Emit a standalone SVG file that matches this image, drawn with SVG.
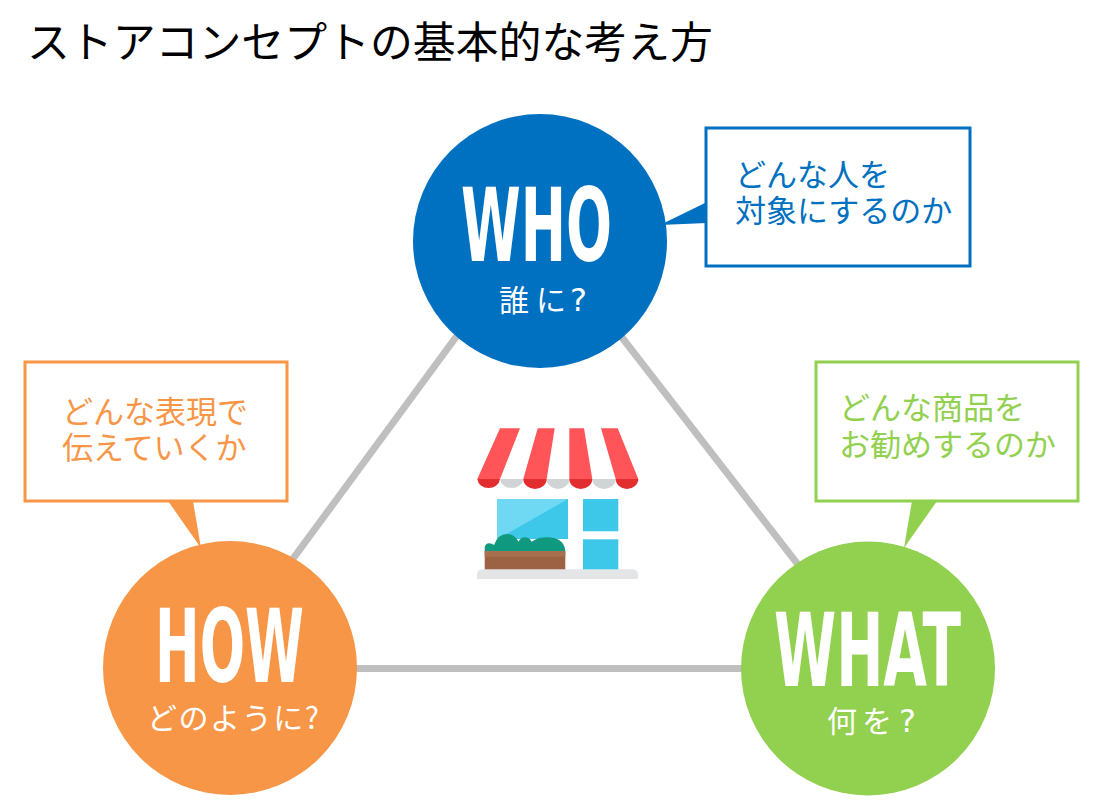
<svg xmlns="http://www.w3.org/2000/svg" width="1098" height="812" viewBox="0 0 1098 812">
<style>
text{font-family:"Noto Sans CJK JP","Noto Sans",sans-serif}
.t{font-size:31px}
.big{font-family:"DejaVu Sans",Roboto,sans-serif;font-weight:700;font-size:101.500px;fill:#fff}
.sub{font-size:30px;fill:#fff}
.q{font-family:"DejaVu Sans",sans-serif;font-size:32px}
.box{fill:#fff;stroke-width:3}
.blue{fill:#0070c0}.orange{fill:#f79646}.green{fill:#92d050}
.sblue{stroke:#0070c0}.sorange{stroke:#f79646}.sgreen{stroke:#92d050}
.link{stroke:#bfbfbf;stroke-width:7;fill:none}
</style>
<rect width="1098" height="812" fill="#fff"/>
<text id="title" x="27" y="58" font-size="43" fill="#000" textLength="686" lengthAdjust="spacingAndGlyphs">ストアコンセプトの基本的な考え方</text>
<g id="connectors">
<line class="link" x1="470" y1="318" x2="270" y2="590"/>
<line class="link" x1="610" y1="322" x2="820" y2="593"/>
<line class="link" x1="340" y1="668.500" x2="760" y2="668.500"/>
</g>
<g id="store">
<path d="M477 579v-4q0-5.700 6-5.700h149q6 0 6 5.700v4z" fill="#e3e5e6"/>
<path d="M500 479a11.700 10 0 0 0 23.300 0zM546.700 479a11.300 10 0 0 0 22.600 0zM592.300 479a11.700 10 0 0 0 23.400 0z" fill="#d0d4d5"/>
<path d="M477.300 479a11.400 10 0 0 0 22.700 0zM523.300 479a11.700 10 0 0 0 23.400 0zM569.300 479a11.500 10 0 0 0 23 0zM615.700 479a11.300 10 0 0 0 22.600 0z" fill="#e22e2e"/>
<path d="M500 428.300h20L500 479h-22.700zM537.700 428.300h17L546.700 479h-23.400zM569.300 428.300H584L592.300 479h-23zM601 428.300h16.700L638.300 479h-22.600z" fill="#ff5558"/>
<rect x="497" y="499" width="71" height="40" fill="#3dc7e8"/>
<path d="M497 499h71L497 539.500z" fill="#6fd9f3"/>
<rect x="583" y="499" width="35.300" height="32.300" fill="#3dc7e8"/>
<rect x="583" y="539.300" width="35.300" height="30" fill="#3dc7e8"/>
<path d="M484.700 551V546.700Q486 543.300 489.300 543.300Q492 543.300 494 545Q498 534 506.700 534Q515 534 518.300 541.700Q521 537.300 525 537.300Q529 537.300 531.700 541.700Q538 537.300 546.700 537.300Q564 537.300 565.300 551z" fill="#0f9a7f"/>
<rect x="484.700" y="551" width="80.600" height="18.300" fill="#9c6243"/>
<rect x="484.700" y="551" width="80.600" height="5.700" fill="#a9704f"/>
</g>
<g id="who">
<path class="blue" d="M707 202L660 225L707 223z"/>
<rect class="box sblue" x="706" y="128" width="264" height="138"/>
<circle class="blue" cx="540" cy="241" r="127"/>
<text class="big" x="461" y="261" textLength="151" lengthAdjust="spacingAndGlyphs">WHO</text>
<text class="sub" y="311"><tspan x="499">誰</tspan><tspan x="536">に</tspan><tspan class="q" x="570">?</tspan></text>
<text class="t" fill="#0070c0" x="735" y="186">どんな人を</text>
<text class="t" fill="#0070c0" x="735" y="222">対象にするのか</text>
</g>
<g id="how">
<path class="orange" d="M168 501L201 548L193 501z"/>
<rect class="box sorange" x="25" y="362" width="262" height="139"/>
<circle class="orange" cx="230" cy="668" r="127"/>
<text class="big" x="155" y="682" textLength="149" lengthAdjust="spacingAndGlyphs">HOW</text>
<text class="sub" x="147" y="729" textLength="172">どのように?</text>
<text class="t" fill="#f79646" x="62" y="423">どんな表現で</text>
<text class="t" fill="#f79646" x="62" y="459">伝えていくか</text>
</g>
<g id="what">
<path class="green" d="M912 501L904 548L937 501z"/>
<rect class="box sgreen" x="816" y="362" width="262" height="139"/>
<circle class="green" cx="868" cy="668.500" r="127"/>
<text class="big" x="774" y="686" textLength="187" lengthAdjust="spacingAndGlyphs">WHAT</text>
<text class="sub" y="732"><tspan x="827">何</tspan><tspan x="862">を</tspan><tspan class="q" x="899">?</tspan></text>
<text class="t" fill="#92d050" x="839" y="419">どんな商品を</text>
<text class="t" fill="#92d050" x="839" y="456">お勧めするのか</text>
</g>
</svg>
